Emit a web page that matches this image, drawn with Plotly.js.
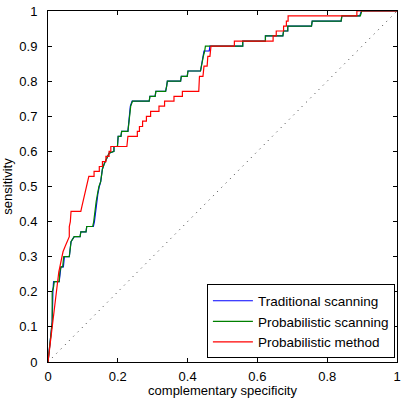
<!DOCTYPE html>
<html>
<head>
<meta charset="utf-8">
<script src="https://cdn.plot.ly/plotly-3.0.1.min.js"></script>
<style>
  html, body { margin: 0; padding: 0; background: #fff; }
  #chart { width: 402px; height: 398px; }
</style>
</head>
<body>
<div id="chart"></div>
<script>
// ROC curves: false positive rate (complementary specificity) vs true positive rate (sensitivity)
const traditionalFpr = [0, 0.012, 0.014, 0.016, 0.032, 0.034, 0.037, 0.044, 0.047, 0.061, 0.063, 0.066, 0.075, 0.092, 0.094, 0.109, 0.111, 0.13, 0.133, 0.136, 0.139, 0.143, 0.147, 0.151, 0.153, 0.156, 0.161, 0.166, 0.17, 0.175, 0.189, 0.189, 0.199, 0.201, 0.209, 0.211, 0.229, 0.231, 0.234, 0.236, 0.241, 0.29, 0.292, 0.307, 0.309, 0.337, 0.34, 0.342, 0.38, 0.382, 0.399, 0.401, 0.437, 0.439, 0.442, 0.445, 0.447, 0.462, 0.464, 0.558, 0.558, 0.623, 0.623, 0.673, 0.675, 0.687, 0.687, 0.755, 0.757, 0.84, 0.842, 0.893, 0.898, 1];
const traditionalTpr = [0, 0.114, 0.2, 0.229, 0.229, 0.257, 0.271, 0.271, 0.3, 0.3, 0.329, 0.343, 0.357, 0.357, 0.371, 0.371, 0.386, 0.386, 0.4, 0.429, 0.457, 0.48, 0.5, 0.514, 0.529, 0.55, 0.564, 0.575, 0.586, 0.595, 0.6, 0.614, 0.614, 0.643, 0.643, 0.657, 0.657, 0.686, 0.714, 0.729, 0.743, 0.743, 0.757, 0.757, 0.771, 0.771, 0.786, 0.8, 0.8, 0.814, 0.814, 0.829, 0.829, 0.843, 0.857, 0.871, 0.886, 0.886, 0.9, 0.9, 0.914, 0.914, 0.929, 0.929, 0.943, 0.943, 0.957, 0.957, 0.971, 0.971, 0.986, 0.986, 1, 1];

const probScanFpr = [0, 0.012, 0.012, 0.016, 0.018, 0.032, 0.034, 0.037, 0.042, 0.045, 0.061, 0.063, 0.066, 0.075, 0.092, 0.094, 0.109, 0.111, 0.128, 0.131, 0.134, 0.138, 0.142, 0.146, 0.151, 0.153, 0.156, 0.161, 0.166, 0.17, 0.175, 0.189, 0.189, 0.199, 0.201, 0.209, 0.211, 0.229, 0.232, 0.235, 0.237, 0.242, 0.29, 0.292, 0.307, 0.309, 0.337, 0.34, 0.342, 0.38, 0.382, 0.399, 0.401, 0.437, 0.439, 0.442, 0.445, 0.449, 0.451, 0.558, 0.558, 0.623, 0.623, 0.673, 0.675, 0.687, 0.687, 0.755, 0.757, 0.84, 0.842, 0.895, 0.899, 1];
const probScanTpr = [0, 0.114, 0.2, 0.214, 0.229, 0.229, 0.257, 0.271, 0.271, 0.3, 0.3, 0.329, 0.343, 0.357, 0.357, 0.371, 0.371, 0.386, 0.386, 0.4, 0.429, 0.457, 0.48, 0.5, 0.514, 0.529, 0.55, 0.564, 0.575, 0.586, 0.595, 0.6, 0.614, 0.614, 0.643, 0.643, 0.657, 0.657, 0.686, 0.714, 0.729, 0.743, 0.743, 0.757, 0.757, 0.771, 0.771, 0.786, 0.8, 0.8, 0.814, 0.814, 0.829, 0.829, 0.843, 0.857, 0.871, 0.886, 0.9, 0.9, 0.914, 0.914, 0.929, 0.929, 0.943, 0.943, 0.957, 0.957, 0.971, 0.971, 0.986, 0.986, 1, 1];

const methodFpr = [0, 0.026, 0.029, 0.031, 0.034, 0.037, 0.04, 0.043, 0.049, 0.056, 0.061, 0.061, 0.064, 0.066, 0.094, 0.097, 0.1, 0.103, 0.106, 0.109, 0.113, 0.117, 0.132, 0.132, 0.147, 0.147, 0.156, 0.156, 0.166, 0.166, 0.175, 0.175, 0.18, 0.18, 0.226, 0.227, 0.229, 0.256, 0.256, 0.262, 0.262, 0.271, 0.271, 0.282, 0.282, 0.294, 0.294, 0.318, 0.318, 0.334, 0.334, 0.361, 0.361, 0.385, 0.385, 0.432, 0.433, 0.434, 0.444, 0.445, 0.447, 0.456, 0.457, 0.458, 0.464, 0.465, 0.467, 0.534, 0.534, 0.645, 0.645, 0.654, 0.654, 0.675, 0.675, 0.683, 0.683, 0.688, 0.688, 0.885, 0.885, 1];
const methodTpr = [0, 0.229, 0.243, 0.257, 0.271, 0.286, 0.3, 0.314, 0.329, 0.343, 0.357, 0.386, 0.4, 0.429, 0.429, 0.443, 0.457, 0.471, 0.486, 0.5, 0.514, 0.529, 0.529, 0.543, 0.543, 0.557, 0.557, 0.571, 0.571, 0.586, 0.586, 0.6, 0.6, 0.614, 0.614, 0.629, 0.643, 0.643, 0.657, 0.657, 0.671, 0.671, 0.686, 0.686, 0.7, 0.7, 0.714, 0.714, 0.729, 0.729, 0.743, 0.743, 0.757, 0.757, 0.771, 0.771, 0.786, 0.814, 0.814, 0.829, 0.843, 0.843, 0.857, 0.871, 0.871, 0.886, 0.9, 0.9, 0.914, 0.914, 0.929, 0.929, 0.943, 0.943, 0.957, 0.957, 0.971, 0.971, 0.986, 0.986, 1, 1];

const chanceLine = [0, 1];

const seriesNames = ['Traditional scanning', 'Probabilistic scanning', 'Probabilistic method'];
const seriesColors = ['#0000ff', '#008000', '#ff0000'];

const xTicks = [0, 0.2, 0.4, 0.6, 0.8, 1];
const xTickText = ['0', '0.2', '0.4', '0.6', '0.8', '1'];
const yTicks = [0, 0.1, 0.2, 0.3, 0.4, 0.5, 0.6, 0.7, 0.8, 0.9, 1];
const yTickText = ['0', '0.1', '0.2', '0.3', '0.4', '0.5', '0.6', '0.7', '0.8', '0.9', '1'];

const FONT = 'Liberation Sans, Arial, Helvetica, sans-serif';
const TEXT_SIZE = 13;

const curves = [
  [traditionalFpr, traditionalTpr],
  [probScanFpr, probScanTpr],
  [methodFpr, methodTpr]
].map(function (c, i) {
  return {
    x: c[0], y: c[1],
    type: 'scatter', mode: 'lines',
    name: seriesNames[i],
    line: { color: seriesColors[i], width: 1.2 }
  };
});

// reference line of a random classifier
const diagonal = {
  x: chanceLine, y: chanceLine,
  type: 'scatter', mode: 'lines',
  showlegend: false, hoverinfo: 'skip',
  line: { color: '#333', width: 1, dash: '1px,5px' }
};

const axisCommon = {
  range: [0, 1],
  showgrid: false, zeroline: false,
  showline: true, linecolor: '#000', linewidth: 1,
  mirror: 'ticks', ticks: 'inside', ticklen: 4, tickwidth: 1, tickcolor: '#000',
  tickfont: { family: FONT, size: TEXT_SIZE, color: '#000' },
  fixedrange: true
};

const layout = {
  width: 402, height: 398,
  margin: { l: 48, r: 5, t: 11, b: 36 },
  paper_bgcolor: '#fff', plot_bgcolor: '#fff',
  showlegend: true,
  xaxis: Object.assign({}, axisCommon, {
    tickvals: xTicks, ticktext: xTickText,
    ticklabelstandoff: 2,
    title: { text: 'complementary specificity', font: { family: FONT, size: TEXT_SIZE, color: '#000' }, standoff: 1 }
  }),
  yaxis: Object.assign({}, axisCommon, {
    tickvals: yTicks, ticktext: yTickText,
    ticklabelstandoff: 7,
    title: { text: 'sensitivity', font: { family: FONT, size: TEXT_SIZE, color: '#000' } }
  }),
  legend: {
    x: 0.994, y: 0.01, xanchor: 'right', yanchor: 'bottom',
    bgcolor: '#fff', bordercolor: '#000', borderwidth: 1,
    font: { family: FONT, size: 13.5, color: '#000' },
    itemwidth: 40,
    tracegroupgap: 0
  }
};

Plotly.newPlot('chart', [diagonal].concat(curves), layout, { staticPlot: true, displayModeBar: false });
</script>
</body>
</html>
